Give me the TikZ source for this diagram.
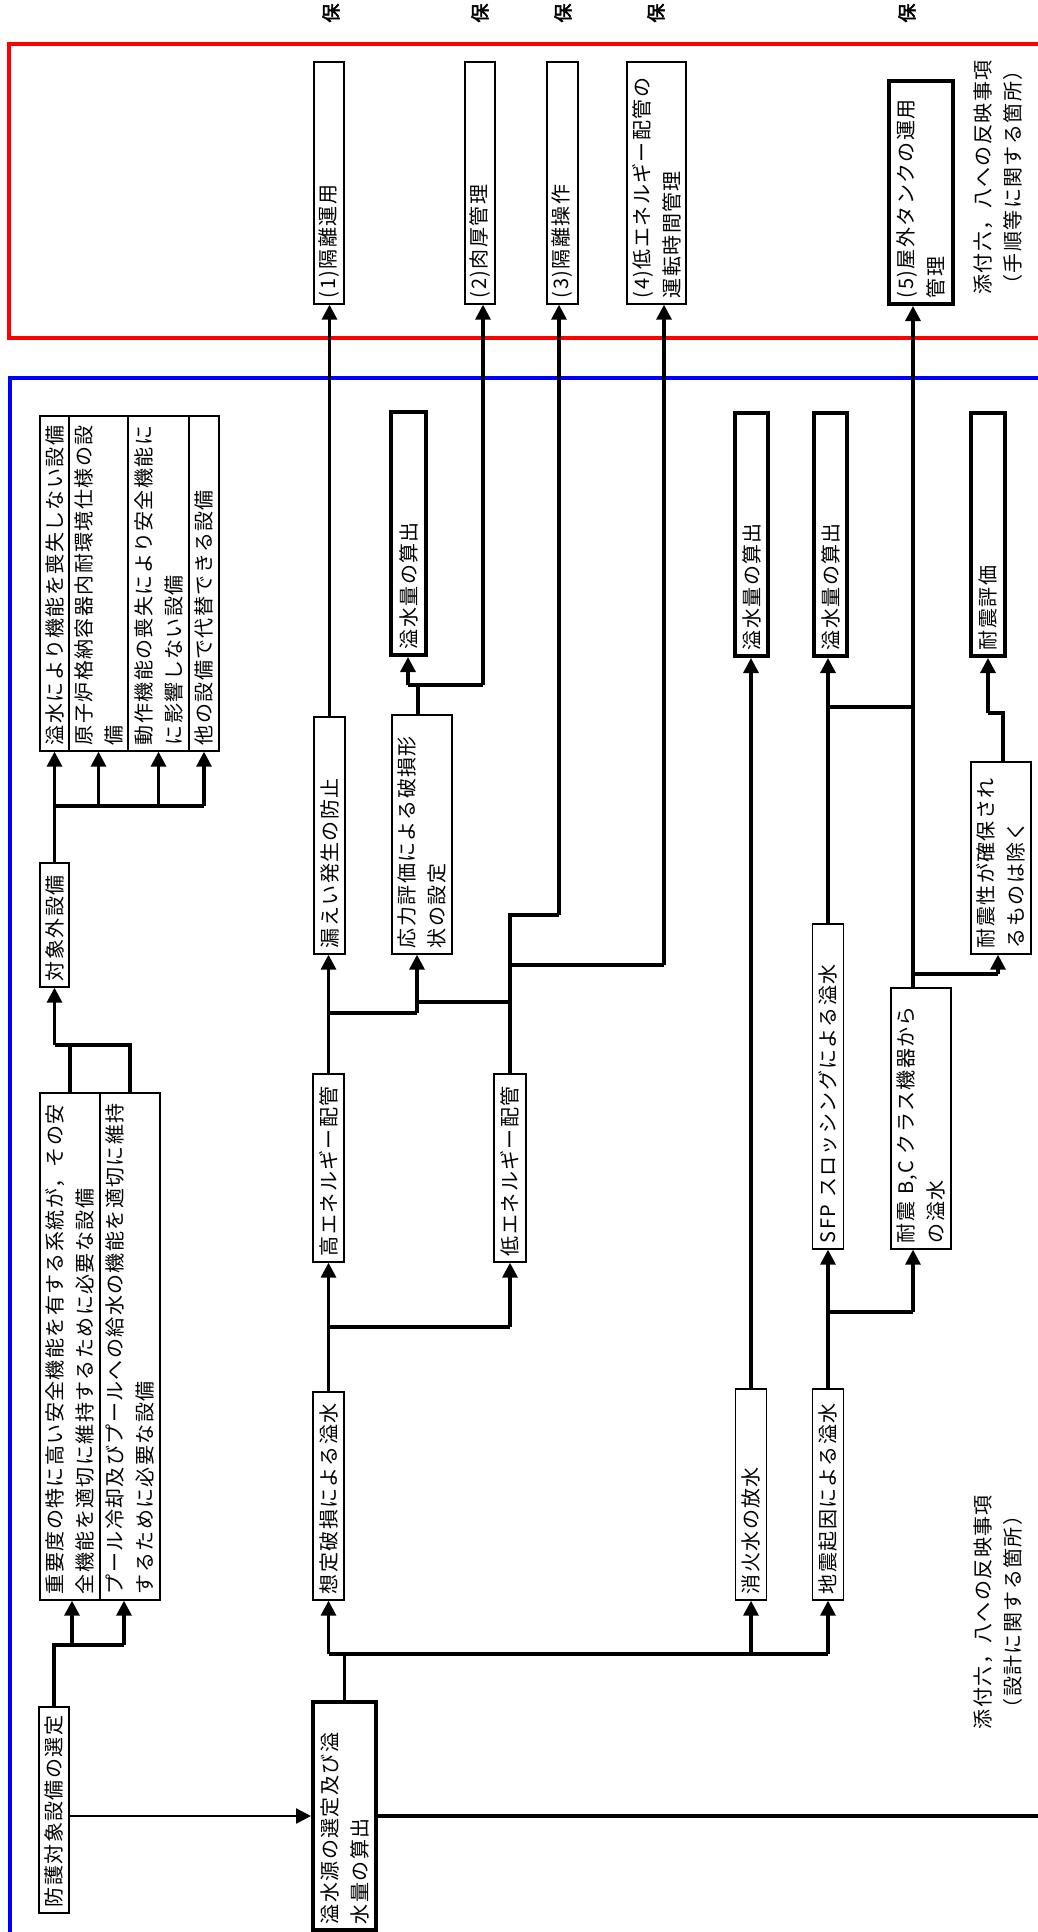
\documentclass[tikz,border=0pt]{standalone}
\usepackage{fontspec}
\setmainfont[LetterSpace=7]{Noto Sans CJK JP}
\newfontfamily\jpbold[FakeBold=2.5]{Noto Sans CJK JP}
\usetikzlibrary{arrows.meta}

\tikzset{
  box/.style={draw, line width=1.3pt, rotate=90, inner xsep=6pt, inner ysep=0pt,
    align=left, font=\fontsize{20}{30}\selectfont},
  thickbox/.style={box, line width=4pt},
  note/.style={rotate=90, align=center, inner sep=0pt, font=\fontsize{20}{30}\selectfont},
  hobox/.style={rotate=90, inner sep=0pt, font=\jpbold\fontsize{19}{19}\selectfont},
  link/.style={line width=3.2pt},
  arrow/.style={link, -{Triangle[length=15pt,width=15pt]}},
  frame/.style={line width=3.5pt}
}

\begin{document}
\begin{tikzpicture}[x=1pt, y=-1pt]
\useasboundingbox (0,0) rectangle (1038,1932);
\clip (0,0) rectangle (1038,1932);

% frames
\draw[frame, red] (1050,44) -- (9,44) -- (9,338) -- (1050,338);
\draw[frame, blue] (1050,378) -- (10,378) -- (10,1950);

% cut-off headers
\node[hobox] (ho1) at (331,13) {保};
\node[hobox] (ho2) at (480,13) {保};
\node[hobox] (ho3) at (563,13) {保};
\node[hobox] (ho4) at (656,13) {保};
\node[hobox] (ho5) at (907,13) {保};

% measures (red frame)
\node[box, text width=230pt, minimum height=30pt] (r1) at (329,183) {(1)隔離運用};
\node[box, text width=230pt, minimum height=30pt] (r2) at (480,183) {(2)肉厚管理};
\node[box, text width=230pt, minimum height=31pt] (r3) at (562.5,183) {(3)隔離操作};
\node[box, text width=230pt, minimum height=59pt] (r4) at (656.5,183) {(4)低エネルギー配管の\\運転時間管理};
\node[thickbox, text width=211pt, minimum height=64pt] (r5) at (921,192.5) {(5)屋外タンクの運用\\管理};
\node[note] (n1) at (998,177.5) {添付六，八への反映事項\\（手順等に関する箇所）};

% excluded equipment
\node[box, text width=323pt, minimum height=29pt] (a1) at (54.5,583.5) {溢水により機能を喪失しない設備};
\node[box, text width=323pt, minimum height=59pt] (a2) at (98.5,583.5) {原子炉格納容器内耐環境仕様の設\\備};
\node[box, text width=323pt, minimum height=61pt] (a3) at (158.5,583.5) {動作機能の喪失により安全機能に\\に影響しない設備};
\node[box, text width=323pt, minimum height=30pt] (a4) at (204,583.5) {他の設備で代替できる設備};
\node[box, text width=112pt, minimum height=29pt] (b1) at (54.5,925) {対象外設備};

% protected equipment
\node[box, text width=495pt, minimum height=60pt] (c1) at (70,1346.5) {重要度の特に高い安全機能を有する系統が，その安\\全機能を適切に維持するために必要な設備};
\node[box, text width=495pt, minimum height=60pt] (c2) at (130,1346.5) {プール冷却及びプールへの給水の機能を適切に維持\\するために必要な設備};
\node[box, text width=194pt, minimum height=30pt] (d1) at (54,1810) {防護対象設備の選定};
\node[thickbox, text width=216pt, minimum height=63pt] (e1) at (344.5,1816) {溢水源の選定及び溢\\水量の算出};

% pipe rupture branch
\node[box, text width=196pt, minimum height=31pt] (f1) at (328.5,1496) {想定破損による溢水};
\node[box, text width=176pt, minimum height=31pt] (f2) at (328.5,1168) {高エネルギー配管};
\node[box, text width=176pt, minimum height=32pt] (f3) at (510,1168) {低エネルギー配管};
\node[box, text width=225pt, minimum height=31pt] (f4) at (329.5,835.5) {漏えい発生の防止};
\node[box, text width=227pt, minimum height=60pt] (f5) at (422,834.5) {応力評価による破損形\\状の設定};
\node[thickbox, text width=231pt, minimum height=35pt] (f6) at (408.5,533.5) {溢水量の算出};

% fire water and earthquake branches
\node[box, text width=199pt, minimum height=31pt] (g1) at (751,1494.5) {消火水の放水};
\node[thickbox, text width=231pt, minimum height=33pt] (g2) at (751.5,534.5) {溢水量の算出};
\node[box, text width=199pt, minimum height=31pt] (h1) at (828,1494.5) {地震起因による溢水};
\node[box, text width=313pt, minimum height=31pt] (h2) at (828,1086.5) {SFP~スロッシングによる溢水};
\node[box, text width=249pt, minimum height=60pt] (h3) at (921,1118.5) {耐震~B,C~クラス機器から\\の溢水};
\node[thickbox, text width=231pt, minimum height=33pt] (h4) at (830.5,534.5) {溢水量の算出};
\node[box, text width=180pt, minimum height=60pt] (h5) at (1001,858) {耐震性が確保され\\るものは除く};
\node[thickbox, text width=231pt, minimum height=34pt] (h6) at (988,534.5) {耐震評価};
\node[note] (n2) at (998.5,1612) {添付六，八への反映事項\\（設計に関する箇所）};

% junctions
\coordinate (ja) at (56,806);
\coordinate (jb) at (54.5,1045);
\coordinate (jc) at (56,1645);
\coordinate (jc1) at (72,1645);
\coordinate (jc2) at (124,1645);
\coordinate (je) at (344.5,1654);
\coordinate (jf) at (328.5,1327);
\coordinate (jg) at (417,1013);
\coordinate (jh) at (510,1002);
\coordinate (ji) at (559,915);
\coordinate (jj) at (664,965);
\coordinate (jk) at (418,685);
\coordinate (jk1) at (408,685);
\coordinate (jk2) at (483,685);
\coordinate (jl) at (913,1312);
\coordinate (jm) at (913,707);
\coordinate (jn) at (913,974);
\coordinate (jo) at (998,974);
\coordinate (jp) at (1003,713);
\coordinate (edge) at (1050,1816);

% left column
\draw[link] (b1.east) -- (b1.east |- ja) -- (a4.west |- ja);
\foreach \n in {a1,a2,a3,a4} \draw[arrow] (\n.west |- ja) -- (\n.west);
\draw[link] (c1.east) -- (c1.east |- jb);
\draw[link] (c2.east) -- (c2.east |- jb) -- (jb);
\draw[arrow] (jb) -- (b1.west);
\draw[link] (d1.east) -- (d1.east |- jc) -- (jc2);
\draw[arrow] (jc1) -- (jc1 |- c1.west);
\draw[arrow] (jc2) -- (jc2 |- c2.west);
\draw[arrow, line width=2.4pt] (d1.south |- e1.north) -- (e1.north);
\draw[link] (e1.south) -- (edge);

% flood sources
\draw[link] (e1.east) -- (je);
\draw[link] (f1.west |- je) -- (h1.west |- je);
\draw[arrow] (f1.west |- je) -- (f1.west);
\draw[arrow] (g1.west |- je) -- (g1.west);
\draw[arrow] (h1.west |- je) -- (h1.west);

% pipe rupture
\draw[link] (f1.east) -- (jf) -- (jh |- jf);
\draw[arrow] (jf) -- (f2.west);
\draw[arrow] (jh |- jf) -- (f3.west);
\draw[arrow] (f2.east) -- (f2.east |- f4.west);
\draw[link] (f2.east |- jg) -- (jg);
\draw[arrow] (jg) -- (jg |- f5.west);
\draw[link] (f3.east) -- (jh |- ji) -- (ji);
\draw[link] (jh) -- (jg |- jh);
\draw[arrow] (ji) -- (ji |- r3.west);
\draw[link] (jh |- jj) -- (jj);
\draw[arrow] (jj) -- (jj |- r4.west);
\draw[arrow] (f4.east) -- (f4.east |- r1.west);
\draw[link] (jk |- f5.east) -- (jk);
\draw[link] (jk1) -- (jk2);
\draw[arrow] (jk1) -- (jk1 |- f6.west);
\draw[arrow] (jk2) -- (jk2 |- r2.west);

% fire water
\draw[arrow] (g1.east) -- (g1.east |- g2.west);

% earthquake
\draw[link] (h1.east) -- (h1.east |- jl) -- (jl);
\draw[arrow] (h1.east |- jl) -- (h2.west);
\draw[arrow] (jl) -- (jl |- h3.west);
\draw[arrow] (h2.east) -- (h2.east |- h4.west);
\draw[link] (h2.east |- jm) -- (jm);
\draw[arrow] (jn |- h3.east) -- (jn |- r5.west);
\draw[link] (jn) -- (jo);
\draw[arrow] (jo) -- (jo |- h5.west);
\draw[link] (jp |- h5.east) -- (jp) -- (h6.west |- jp);
\draw[arrow] (h6.west |- jp) -- (h6.west);

\end{tikzpicture}
\end{document}
